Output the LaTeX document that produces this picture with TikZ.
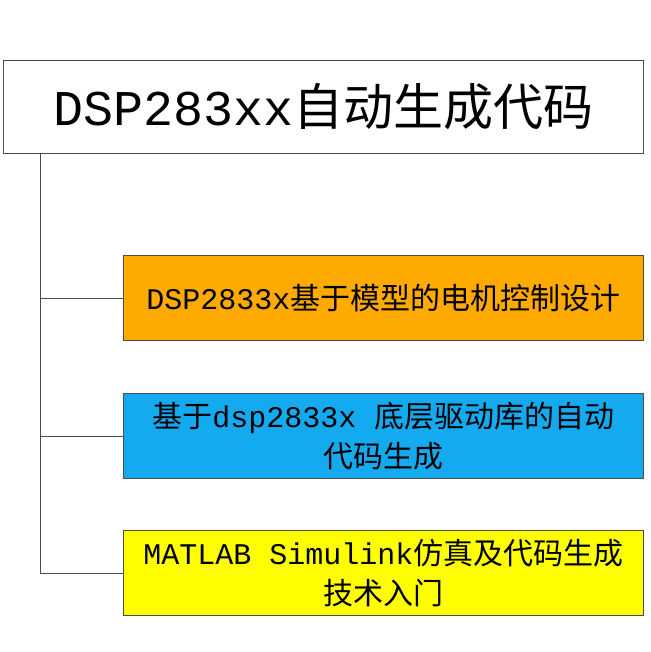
\documentclass[tikz,border=0pt]{standalone}
\usepackage{fontspec}
\setmainfont{Noto Sans CJK SC}
\newfontfamily\lat{Liberation Mono}
\begin{document}
\begin{tikzpicture}[x=1pt,y=-1pt,
  box/.style={draw=black!70,line width=0.8pt,minimum width=520pt,minimum height=85pt,anchor=north west,align=center,font=\fontsize{30}{40}\selectfont,inner sep=0pt},
  conn/.style={draw=black!70,line width=0.8pt}]
\useasboundingbox (0,0) rectangle (650,652);
\node[draw=black!70,line width=0.8pt,minimum width=640pt,minimum height=93pt,anchor=north west,font=\fontsize{50}{56}\selectfont,inner sep=0pt] (t) at (3,60) {{\lat DSP283xx}自动生成代码};
\node[box,fill={rgb,255:red,255;green,170;blue,0}] (a) at (123,255) {{\lat DSP2833x}基于模型的电机控制设计};
\node[box,fill={rgb,255:red,20;green,170;blue,240}] (b) at (123,393) {基于{\lat dsp2833x }底层驱动库的自动\\代码生成};
\node[box,fill={rgb,255:red,255;green,255;blue,0}] (c) at (123,530) {{\lat MATLAB Simulink}仿真及代码生成\\技术入门};
\coordinate (s) at (40,153);
\draw[conn] (s) |- (c.west);
\draw[conn] (s) |- (a.west);
\draw[conn] (s) |- (b.west);
\end{tikzpicture}
\end{document}
